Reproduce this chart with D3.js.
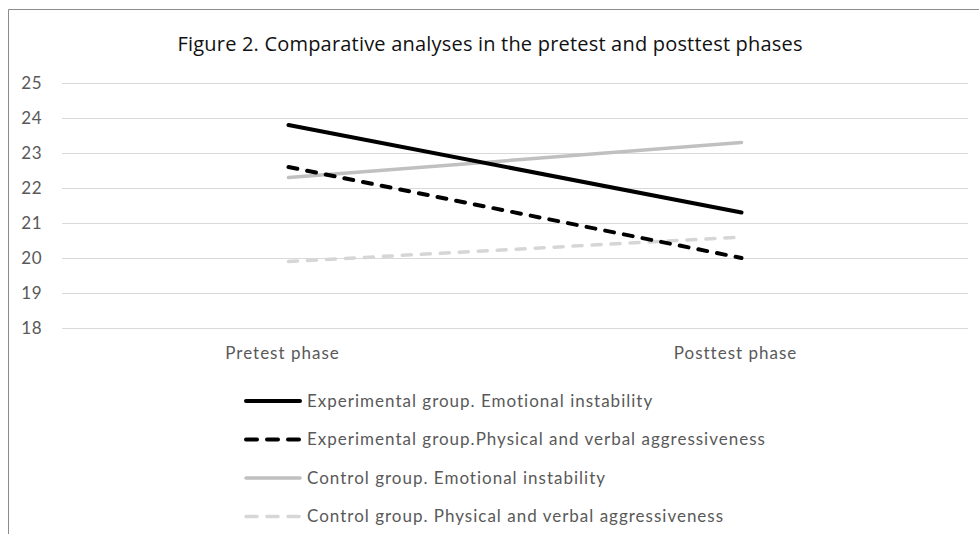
<!DOCTYPE html>
<html>
<head>
<meta charset="utf-8">
<script src="https://cdn.jsdelivr.net/npm/d3@7"></script>
<style>
  body { margin: 0; background: #fff; }
  svg { display: block; }
</style>
</head>
<body>
<div id="chart"></div>
<script>
const phases = ["Pretest phase", "Posttest phase"]
const yTicks = [18, 19, 20, 21, 22, 23, 24, 25]

const expEmotional = [23.8, 21.3]
const expAggressive = [22.6, 20.0]
const ctrlEmotional = [22.3, 23.3]
const ctrlAggressive = [19.9, 20.6]

const seriesNames = [
  "Experimental group. Emotional instability",
  "Experimental group.Physical and verbal aggressiveness",
  "Control group. Emotional instability",
  "Control group. Physical and verbal aggressiveness"
]

const series = [
  {name: seriesNames[0], values: expEmotional, color: "#000000", dash: null, width: 4},
  {name: seriesNames[1], values: expAggressive, color: "#000000", dash: "9 10", width: 4},
  {name: seriesNames[2], values: ctrlEmotional, color: "#c0c0c0", dash: null, width: 3.5},
  {name: seriesNames[3], values: ctrlAggressive, color: "#d6d6d6", dash: "9 10", width: 3.5}
]

const width = 979
const height = 534
const margin = {top: 83, right: 11, bottom: 206, left: 62}
const labelFont = "Lato, 'Open Sans', sans-serif"

const svg = d3.select("#chart").append("svg")
    .attr("width", width)
    .attr("height", height)

// Frame (top and left edges visible)
svg.append("path")
    .attr("d", `M8.5,${height}V9.5H${width}`)
    .attr("fill", "none")
    .attr("stroke", "#8c8c8c")
    .attr("stroke-width", 1)

svg.append("text")
    .attr("x", 490)
    .attr("y", 51)
    .attr("text-anchor", "middle")
    .attr("font-family", "'Open Sans', sans-serif")
    .attr("font-size", 20)
    .attr("textLength", 625)
    .attr("fill", "#111")
    .text("Figure 2. Comparative analyses in the pretest and posttest phases")

const x = d3.scaleBand()
    .domain(phases)
    .range([margin.left, width - margin.right])

const y = d3.scaleLinear()
    .domain([18, 25])
    .range([height - margin.bottom, margin.top])

// Gridlines
svg.append("g")
  .selectAll("line")
  .data(yTicks)
  .join("line")
    .attr("x1", margin.left)
    .attr("x2", width - margin.right)
    .attr("y1", d => Math.round(y(d)) + 0.5)
    .attr("y2", d => Math.round(y(d)) + 0.5)
    .attr("stroke", "#d9d9d9")
    .attr("stroke-width", 1)

// Y axis labels
svg.append("g")
    .attr("transform", `translate(${margin.left},0)`)
    .call(d3.axisLeft(y).tickValues(yTicks).tickFormat(d3.format("d")).tickSize(0).tickPadding(20))
    .call(g => g.select(".domain").remove())
    .call(g => g.selectAll("text")
        .attr("font-family", labelFont)
        .attr("font-size", 17)
        .attr("letter-spacing", 0.5)
        .attr("fill", "#595959"))

// X axis labels
svg.append("g")
    .attr("transform", `translate(0,${height - margin.bottom})`)
    .call(d3.axisBottom(x).tickSize(0).tickPadding(19))
    .call(g => g.select(".domain").remove())
    .call(g => g.selectAll("text")
        .attr("dx", -6)
        .attr("font-family", labelFont)
        .attr("font-size", 17)
        .attr("letter-spacing", 1)
        .attr("fill", "#595959"))

const line = d3.line()
    .x((d, i) => x(phases[i]) + x.bandwidth() / 2)
    .y(d => y(d))

// Draw back to front: control first, then experimental
svg.append("g")
  .selectAll("path")
  .data(series.slice().reverse())
  .join("path")
    .attr("d", d => line(d.values))
    .attr("fill", "none")
    .attr("stroke", d => d.color)
    .attr("stroke-width", d => d.width)
    .attr("stroke-dasharray", d => d.dash)
    .attr("stroke-linecap", "round")

// Legend
const legend = svg.append("g")
    .attr("transform", "translate(244,401)")

const row = legend.selectAll("g")
  .data(series)
  .join("g")
    .attr("transform", (d, i) => `translate(0,${i * 38.5})`)

row.append("line")
    .attr("x1", 2)
    .attr("x2", 56)
    .attr("stroke", d => d.color)
    .attr("stroke-width", d => d.width)
    .attr("stroke-dasharray", d => d.dash ? "11 10" : null)
    .attr("stroke-linecap", "round")

row.append("text")
    .attr("x", 63)
    .attr("dy", "0.35em")
    .attr("font-family", labelFont)
    .attr("font-size", 17)
    .attr("letter-spacing", 1)
    .attr("fill", "#595959")
    .text(d => d.name)
</script>
</body>
</html>
